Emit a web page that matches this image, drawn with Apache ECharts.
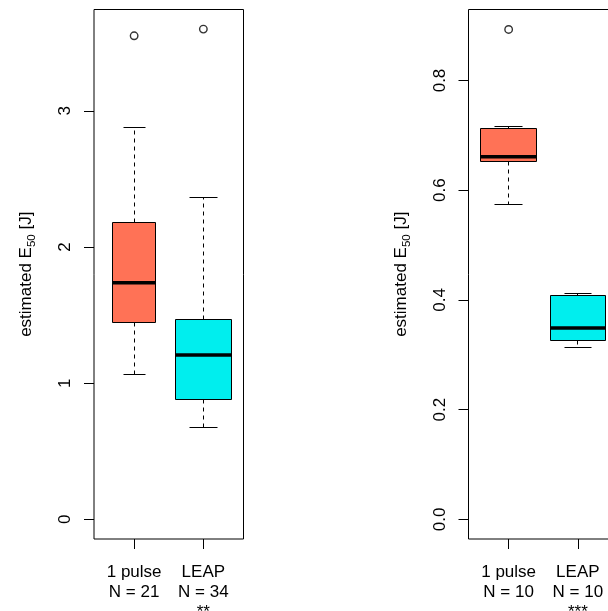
<!DOCTYPE html>
<html>
<head>
<meta charset="utf-8">
<style>
  html, body { margin: 0; padding: 0; background: #fff; }
  #chart { width: 608px; height: 611px; }
</style>
<script src="https://cdn.jsdelivr.net/npm/echarts@6/dist/echarts.min.js"></script>
</head>
<body>
<div id="chart"></div>
<script>
// Group names and sample sizes
const categories = ['1 pulse', 'LEAP'];
const countsLeft = [21, 34];
const countsRight = [10, 10];
const starsLeft = '**';
const starsRight = '***';

// Box statistics per group: [lower whisker, Q1, median, Q3, upper whisker]
const statsLeft = [
  [1.061, 1.447, 1.738, 2.180, 2.879],
  [0.674, 0.877, 1.207, 1.471, 2.363]
];
const outliersLeft = [[3.551], [3.600]];

const statsRight = [
  [0.574, 0.653, 0.661, 0.713, 0.716],
  [0.313, 0.326, 0.349, 0.409, 0.411]
];
const outliersRight = [[0.893], []];

// Axis ticks
const yTicksLeft = [0, 1, 2, 3];
const yTicksRight = [0, 0.2, 0.4, 0.6, 0.8];
const xTicks = [1, 2];

const boxColors = ['#FF7256', '#00EEEE'];
const FONT = 'Liberation Sans, Arial, Helvetica, sans-serif';

function crisp(v) { return Math.round(v - 0.5) + 0.5; }

// Box, median, dashed whiskers and staples; box width grows with sqrt(N)
function renderBox(params, api) {
  const x = api.value(0);
  const low = api.value(1), q1 = api.value(2), med = api.value(3), q3 = api.value(4), high = api.value(5);
  const n = api.value(6), maxN = api.value(7);
  const half = 0.4 * Math.sqrt(n / maxN);
  const cx = crisp(api.coord([x, 0])[0]);
  const xl = crisp(api.coord([x - half, 0])[0]);
  const xr = crisp(api.coord([x + half, 0])[0]);
  const cl = crisp(api.coord([x - half / 2, 0])[0]);
  const cr = crisp(api.coord([x + half / 2, 0])[0]);
  const y = v => api.coord([x, v])[1];
  const yLow = crisp(y(low)), yQ1 = crisp(y(q1)), yMed = y(med), yQ3 = crisp(y(q3)), yHigh = crisp(y(high));
  const line = { stroke: '#000', lineWidth: 1 };
  const dashed = { stroke: '#000', lineWidth: 1, lineDash: [4, 4] };
  return {
    type: 'group',
    children: [
      { type: 'line', shape: { x1: cx, y1: yQ3, x2: cx, y2: yHigh }, style: dashed },
      { type: 'line', shape: { x1: cx, y1: yQ1, x2: cx, y2: yLow }, style: dashed },
      { type: 'line', shape: { x1: cl, y1: yHigh, x2: cr, y2: yHigh }, style: line },
      { type: 'line', shape: { x1: cl, y1: yLow, x2: cr, y2: yLow }, style: line },
      { type: 'rect', shape: { x: xl, y: yQ3, width: xr - xl, height: yQ1 - yQ3 },
        style: { fill: boxColors[params.dataIndex], stroke: '#000', lineWidth: 1 } },
      { type: 'line', shape: { x1: xl, y1: yMed, x2: xr, y2: yMed }, style: { stroke: '#000', lineWidth: 3.5 } }
    ]
  };
}

function boxData(stats, counts) {
  const maxN = Math.max.apply(null, counts);
  return stats.map((s, i) => [xTicks[i]].concat(s, [counts[i], maxN]));
}

function outlierData(outs) {
  const pts = [];
  outs.forEach((list, i) => list.forEach(v => pts.push([xTicks[i], v])));
  return pts;
}

function xLabel(counts, stars) {
  return function (v) {
    const i = Math.round(v) - 1;
    let s = categories[i] + '\nN = ' + counts[i];
    if (i === 1) s += '\n' + stars;
    return s;
  };
}

const yName = '{a|estimated E}{s|50}{a| [J]}';
const nameStyle = {
  color: '#000', fontFamily: FONT, fontSize: 17,
  rich: {
    a: { fontFamily: FONT, fontSize: 17, color: '#000', lineHeight: 17, verticalAlign: 'bottom' },
    s: { fontFamily: FONT, fontSize: 11.5, color: '#000', lineHeight: 11, verticalAlign: 'bottom', padding: [0, 0, -3, 0] }
  }
};

function xAxisDef(gridIndex, counts, stars) {
  return {
    type: 'value', gridIndex, min: 0.42, max: 2.58,
    splitLine: { show: false },
    axisLine: { show: false, onZero: false },
    axisTick: { show: true, length: 10, inside: false, customValues: xTicks, lineStyle: { color: '#000', width: 1 } },
    axisLabel: {
      customValues: xTicks, formatter: xLabel(counts, stars),
      color: '#000', fontFamily: FONT, fontSize: 17, lineHeight: 20, margin: 23
    }
  };
}

function yAxisDef(gridIndex, min, max, ticks, fmt) {
  return {
    type: 'value', gridIndex, min, max,
    splitLine: { show: false },
    axisLine: { show: false, onZero: false },
    axisTick: { show: true, length: 10, inside: false, customValues: ticks, lineStyle: { color: '#000', width: 1 } },
    axisLabel: {
      customValues: ticks, formatter: fmt, rotate: 90,
      color: '#000', fontFamily: FONT, fontSize: 17, margin: 20
    },
    name: yName, nameLocation: 'middle', nameRotate: 90, nameGap: 59,
    nameTextStyle: nameStyle
  };
}

const gridBase = {
  top: 9.5, width: 149.5, height: 529.5, show: true,
  borderColor: '#000', borderWidth: 1, backgroundColor: 'transparent',
  containLabel: false, outerBoundsMode: 'none'
};

const chart = echarts.init(document.getElementById('chart'), null, { renderer: 'canvas' });
chart.setOption({
  animation: false,
  backgroundColor: '#fff',
  grid: [
    Object.assign({ left: 94 }, gridBase),
    Object.assign({ left: 468.5 }, gridBase)
  ],
  xAxis: [
    xAxisDef(0, countsLeft, starsLeft),
    xAxisDef(1, countsRight, starsRight)
  ],
  yAxis: [
    yAxisDef(0, -0.144, 3.744, yTicksLeft, v => String(v)),
    yAxisDef(1, -0.0357, 0.9294, yTicksRight, v => v.toFixed(1))
  ],
  series: [
    { type: 'custom', xAxisIndex: 0, yAxisIndex: 0, renderItem: renderBox, data: boxData(statsLeft, countsLeft), silent: true },
    { type: 'custom', xAxisIndex: 1, yAxisIndex: 1, renderItem: renderBox, data: boxData(statsRight, countsRight), silent: true },
    { type: 'scatter', xAxisIndex: 0, yAxisIndex: 0, data: outlierData(outliersLeft), symbol: 'circle', symbolSize: 7.5,
      itemStyle: { color: 'transparent', borderColor: '#000', borderWidth: 1.4 }, silent: true },
    { type: 'scatter', xAxisIndex: 1, yAxisIndex: 1, data: outlierData(outliersRight), symbol: 'circle', symbolSize: 7.5,
      itemStyle: { color: 'transparent', borderColor: '#000', borderWidth: 1.4 }, silent: true }
  ]
});
</script>
</body>
</html>
